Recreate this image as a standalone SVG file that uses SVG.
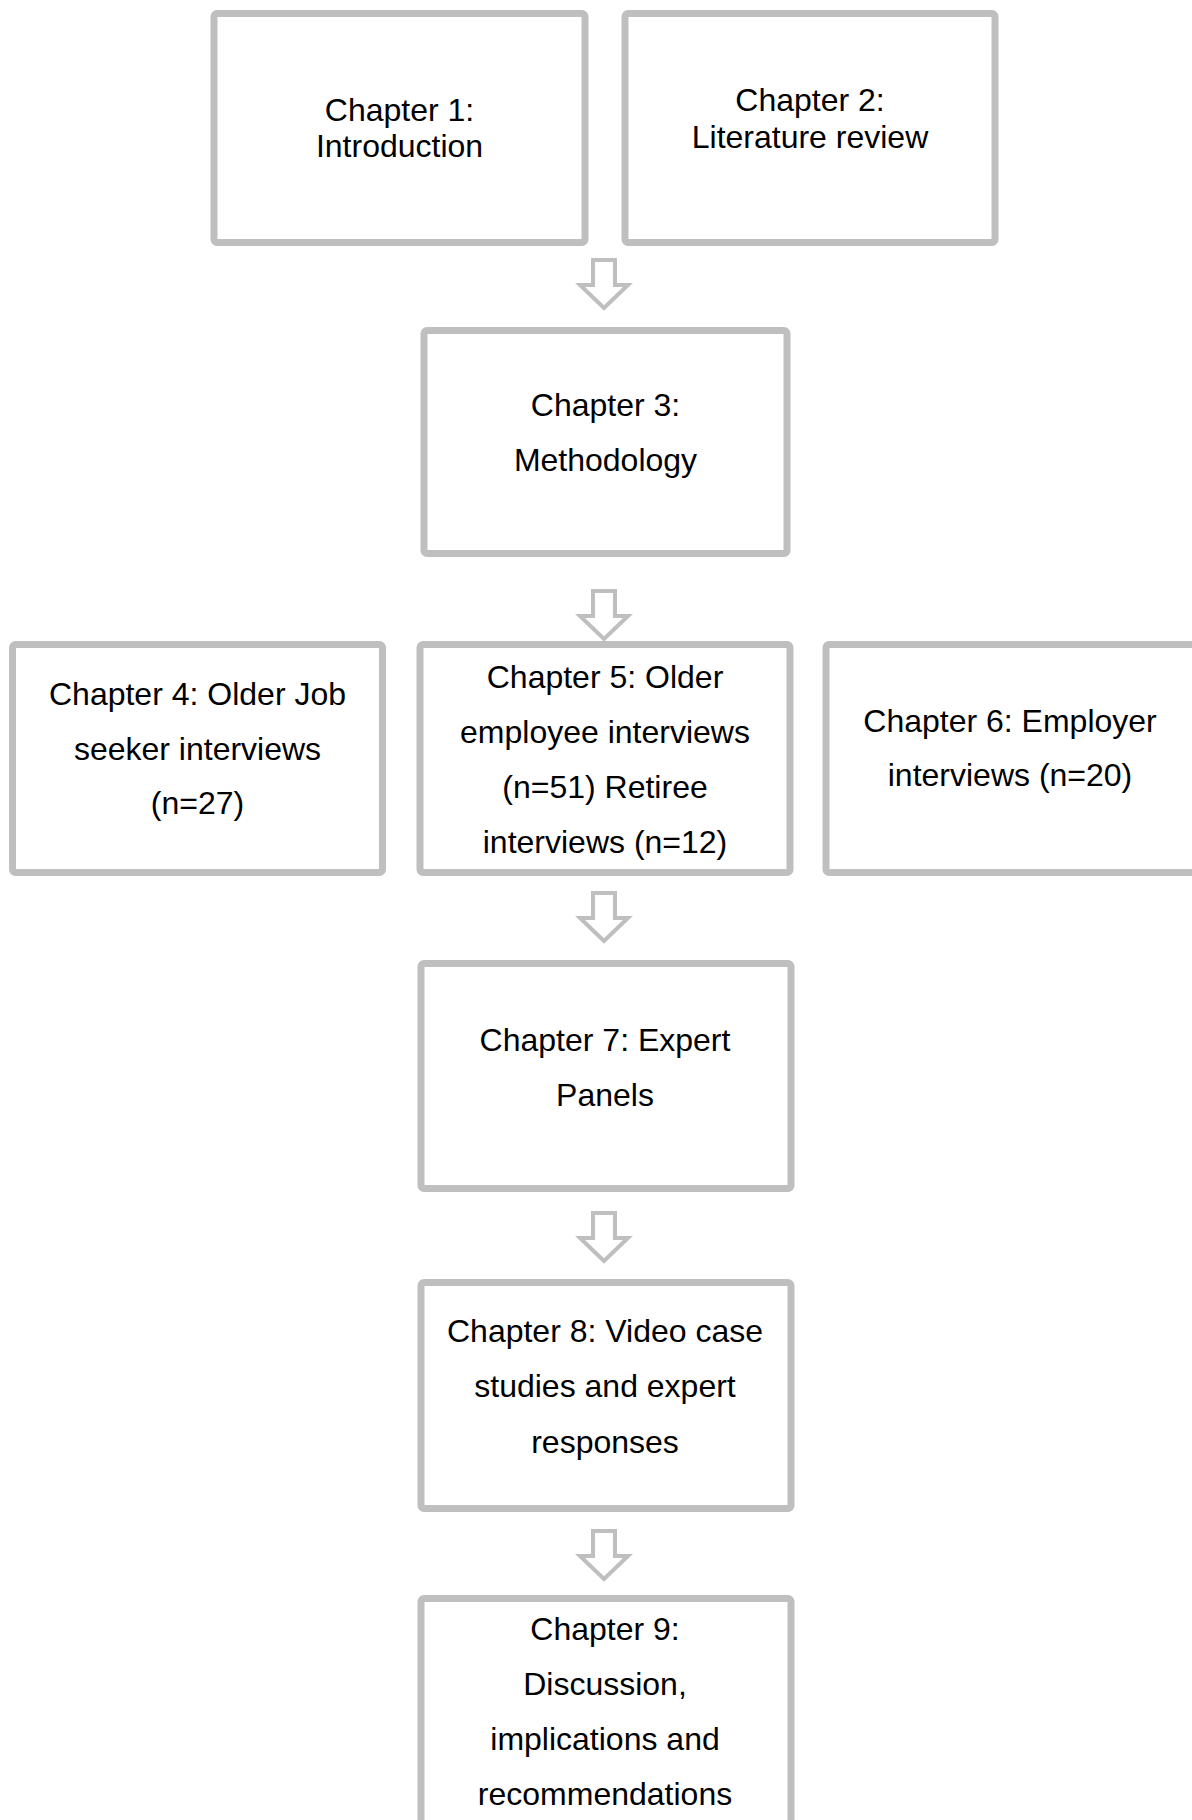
<svg xmlns="http://www.w3.org/2000/svg" width="1192" height="1820" viewBox="0 0 1192 1820">
<style>
.box{fill:#ffffff;stroke:#bfbfbf;stroke-width:7;}
.t{font-family:"Liberation Sans",Arial,sans-serif;font-size:32px;fill:#000000;text-anchor:middle;}
.arr{fill:#ffffff;stroke:#bfbfbf;stroke-width:4;stroke-linejoin:miter;}
</style>
<defs>
<path id="arrow" class="arr" d="M-11,2 H11 V27 H24 L0,50 L-24,27 H-11 Z"/>
</defs>
<rect width="1192" height="1820" fill="#ffffff"/>
<g id="connectors">
<use href="#arrow" x="604" y="258"/>
<use href="#arrow" x="604" y="589"/>
<use href="#arrow" x="604" y="891"/>
<use href="#arrow" x="604" y="1211"/>
<use href="#arrow" x="604" y="1529"/>
</g>
<g id="ch1">
<rect class="box" x="214" y="13.5" width="371" height="229" rx="3"/>
<text class="t" x="399.5" y="121">Chapter 1:</text>
<text class="t" x="399.5" y="157">Introduction</text>
</g>
<g id="ch2">
<rect class="box" x="625" y="13.5" width="370" height="229" rx="3"/>
<text class="t" x="810" y="111">Chapter 2:</text>
<text class="t" x="810" y="148">Literature review</text>
</g>
<g id="ch3">
<rect class="box" x="424" y="330.5" width="363" height="223" rx="3"/>
<text class="t" x="605.5" y="416">Chapter 3:</text>
<text class="t" x="605.5" y="471">Methodology</text>
</g>
<g id="ch4">
<rect class="box" x="12.5" y="644.5" width="370" height="228" rx="3"/>
<text class="t" x="197.5" y="705">Chapter 4: Older Job</text>
<text class="t" x="197.5" y="760">seeker interviews</text>
<text class="t" x="197.5" y="814">(n=27)</text>
</g>
<g id="ch5">
<rect class="box" x="420" y="644.5" width="370" height="228" rx="3"/>
<text class="t" x="605" y="688">Chapter 5: Older</text>
<text class="t" x="605" y="743">employee interviews</text>
<text class="t" x="605" y="798">(n=51) Retiree</text>
<text class="t" x="605" y="853">interviews (n=12)</text>
</g>
<g id="ch6">
<rect class="box" x="826" y="644.5" width="370" height="228" rx="3"/>
<text class="t" x="1010" y="732">Chapter 6: Employer</text>
<text class="t" x="1010" y="786">interviews (n=20)</text>
</g>
<g id="ch7">
<rect class="box" x="421" y="963.5" width="370" height="225" rx="3"/>
<text class="t" x="605" y="1051">Chapter 7: Expert</text>
<text class="t" x="605" y="1106">Panels</text>
</g>
<g id="ch8">
<rect class="box" x="421" y="1282.5" width="370" height="226" rx="3"/>
<text class="t" x="605" y="1342">Chapter 8: Video case</text>
<text class="t" x="605" y="1397">studies and expert</text>
<text class="t" x="605" y="1453">responses</text>
</g>
<g id="ch9">
<rect class="box" x="421" y="1598.5" width="370" height="260" rx="3"/>
<text class="t" x="605" y="1640">Chapter 9:</text>
<text class="t" x="605" y="1695">Discussion,</text>
<text class="t" x="605" y="1750">implications and</text>
<text class="t" x="605" y="1805">recommendations</text>
</g>
</svg>
